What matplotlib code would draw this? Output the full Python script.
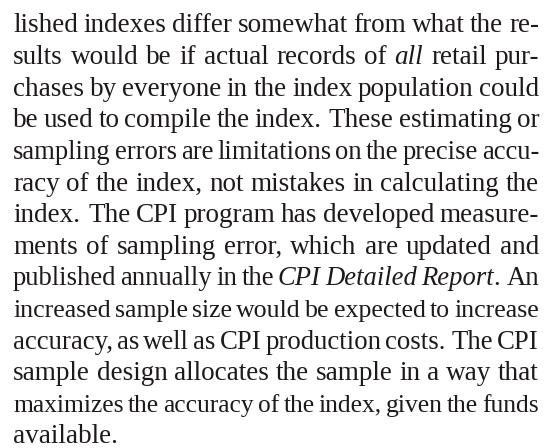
import matplotlib.pyplot as plt

# Text lines as they break in the reference; *...* marks italic runs
lines = [
    "lished indexes differ somewhat from what the re-",
    "sults would be if actual records of *all* retail pur-",
    "chases by everyone in the index population could",
    "be used to compile the index.  These estimating or",
    "sampling errors are limitations on the precise accu-",
    "racy of the index, not mistakes in calculating the",
    "index.  The CPI program has developed measure-",
    "ments of sampling error, which are updated and",
    "published annually in the *CPI Detailed Report*.  An",
    "increased sample size would be expected to increase",
    "accuracy, as well as CPI production costs.  The CPI",
    "sample design allocates the sample in a way that",
    "maximizes the accuracy of the index, given the funds",
    "available.",
]

W, H = 547, 448
left, right = 13, 539
first_base, spacing = 32.5, 31.6
base_size = 19.5
min_gap = 4.0
font = "Liberation Serif"

fig = plt.figure(figsize=(W / 100, H / 100), dpi=100)
fig.patch.set_facecolor("white")
renderer = fig.canvas.get_renderer()


def parse(line, italic):
    # split a line into words, each a list of (text, italic) pieces
    words = []
    for raw in line.split():
        pieces = []
        buf = ""
        for ch in raw:
            if ch == "*":
                if buf:
                    pieces.append((buf, italic))
                buf = ""
                italic = not italic
            else:
                buf += ch
        if buf:
            pieces.append((buf, italic))
        words.append(pieces)
    return words, italic


def piece_width(text, it, size):
    t = fig.text(0, 0, text, fontsize=size, family=font,
                 style="italic" if it else "normal")
    w = t.get_window_extent(renderer).width
    t.remove()
    return w


italic = False
for i, line in enumerate(lines):
    words, italic = parse(line, italic)
    # sentence gaps get extra weight
    weights = [1.5 if w[-1][0].endswith(".") else 1.0 for w in words[:-1]]
    size = base_size
    widths = [[piece_width(p, it, size) for p, it in w] for w in words]
    total = sum(sum(w) for w in widths)
    avail = right - left - min_gap * sum(weights)
    if total > avail and i < len(lines) - 1:
        size = base_size * avail / total
        widths = [[piece_width(p, it, size) for p, it in w] for w in words]
        total = sum(sum(w) for w in widths)
    if i == len(lines) - 1:
        unit = piece_width("a b", False, size) - piece_width("ab", False, size)
    else:
        unit = (right - left - total) / sum(weights)
    x = left
    y = H - (first_base + i * spacing)
    for k, (w, ws) in enumerate(zip(words, widths)):
        px = x
        for (p, it), pw in zip(w, ws):
            fig.text(px / W, y / H, p, fontsize=size, family=font,
                     style="italic" if it else "normal", va="baseline",
                     ha="left", color="#1e1a1b")
            px += pw
        x = px
        if k < len(weights):
            x += unit * weights[k]

fig.savefig("out.png", dpi=100, facecolor="white")
